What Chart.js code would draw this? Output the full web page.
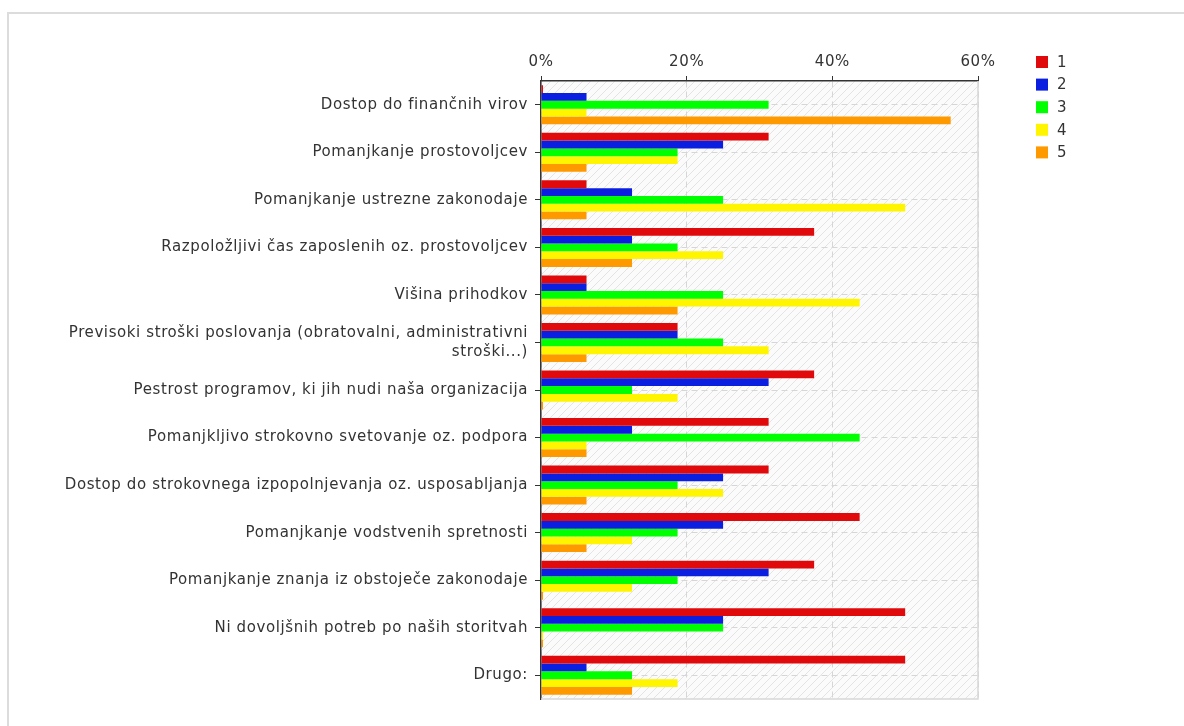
<!DOCTYPE html>
<html>
<head>
<meta charset="utf-8">
<script src="https://cdn.jsdelivr.net/npm/chart.js@4.4.1/dist/chart.umd.min.js"></script>
<style>
  html, body { margin: 0; padding: 0; background: #fff; overflow: hidden; }
  #frame {
    position: absolute; left: 7px; top: 12px; width: 1300px; height: 900px;
    border-left: 2px solid #dcdcdc; border-top: 2px solid #dcdcdc;
  }
  #wrap { position: absolute; left: 0; top: 0; width: 1184px; height: 726px; }
</style>
</head>
<body>
<div id="frame"></div>
<div id="wrap"><canvas id="chart" width="1184" height="726"></canvas></div>
<script>
const categories = [
  "Dostop do finančnih virov",
  "Pomanjkanje prostovoljcev",
  "Pomanjkanje ustrezne zakonodaje",
  "Razpoložljivi čas zaposlenih oz. prostovoljcev",
  "Višina prihodkov",
  ["Previsoki stroški poslovanja (obratovalni, administrativni", "stroški...)"],
  "Pestrost programov, ki jih nudi naša organizacija",
  "Pomanjkljivo strokovno svetovanje oz. podpora",
  "Dostop do strokovnega izpopolnjevanja oz. usposabljanja",
  "Pomanjkanje vodstvenih spretnosti",
  "Pomanjkanje znanja iz obstoječe zakonodaje",
  "Ni dovoljšnih potreb po naših storitvah",
  "Drugo:",
];

const seriesNames = ["1", "2", "3", "4", "5"];
const seriesColors = ["#e00a0c", "#0a1fe0", "#00ff00", "#fff500", "#ff9900"];

const values1 = [0, 31.25, 6.25, 37.5, 6.25, 18.75, 37.5, 31.25, 31.25, 43.75, 37.5, 50, 50];
const values2 = [6.25, 25, 12.5, 12.5, 6.25, 18.75, 31.25, 12.5, 25, 25, 31.25, 25, 6.25];
const values3 = [31.25, 18.75, 25, 18.75, 25, 25, 12.5, 43.75, 18.75, 18.75, 18.75, 25, 12.5];
const values4 = [6.25, 18.75, 50, 25, 43.75, 31.25, 18.75, 6.25, 25, 12.5, 12.5, 0, 18.75];
const values5 = [56.25, 6.25, 6.25, 12.5, 18.75, 6.25, 0, 6.25, 6.25, 6.25, 0, 0, 12.5];

const xTicks = [0, 20, 40, 60];

const FONT = "'DejaVu Sans', Verdana, sans-serif";
const TEXT = "#333";
const SPACING = "0.6px";

function hatchPattern(ctx) {
  const n = 8;
  const c = document.createElement("canvas");
  c.width = n;
  c.height = n;
  const p = c.getContext("2d");
  p.fillStyle = "#fbfbfb";
  p.fillRect(0, 0, n, n);
  p.strokeStyle = "#e4e4e4";
  p.lineWidth = 1;
  p.beginPath();
  p.moveTo(-1, n + 1);
  p.lineTo(n + 1, -1);
  p.moveTo(-1, 1);
  p.lineTo(1, -1);
  p.moveTo(n - 1, n + 1);
  p.lineTo(n + 1, n - 1);
  p.stroke();
  return ctx.createPattern(c, "repeat");
}

// canvas resets drop letterSpacing, so put it back before measuring and drawing
const spacedText = {
  id: "spacedText",
  beforeUpdate(chart) { chart.ctx.letterSpacing = SPACING; },
  beforeLayout(chart) { chart.ctx.letterSpacing = SPACING; },
  beforeDraw(chart) { chart.ctx.letterSpacing = SPACING; },
};

const plotBackground = {
  id: "plotBackground",
  beforeDraw(chart) {
    const { ctx, chartArea: a } = chart;
    ctx.save();
    ctx.fillStyle = hatchPattern(ctx);
    ctx.fillRect(a.left, a.top, a.right - a.left, a.bottom - a.top);
    ctx.restore();
  },
  afterDatasetsDraw(chart) {
    const { ctx, chartArea: a } = chart;
    ctx.save();
    ctx.strokeStyle = "#d8d8d8";
    ctx.lineWidth = 1.5;
    ctx.beginPath();
    ctx.moveTo(a.right, a.top);
    ctx.lineTo(a.right, a.bottom);
    ctx.lineTo(a.left, a.bottom);
    ctx.stroke();
    ctx.restore();
  },
};

const sideLegend = {
  id: "sideLegend",
  afterDraw(chart) {
    const { ctx } = chart;
    ctx.save();
    ctx.font = "15px " + FONT;
    ctx.textBaseline = "middle";
    chart.data.datasets.forEach((ds, i) => {
      const y = 62 + i * 22.6;
      ctx.fillStyle = ds.backgroundColor;
      ctx.fillRect(1036, y - 6, 12, 12);
      ctx.fillStyle = TEXT;
      ctx.fillText(ds.label, 1057, y + 1);
    });
    ctx.restore();
  },
};

const allValues = [values1, values2, values3, values4, values5];

new Chart(document.getElementById("chart").getContext("2d"), {
  type: "bar",
  data: {
    labels: categories,
    datasets: allValues.map((vals, i) => ({
      label: seriesNames[i],
      data: vals,
      backgroundColor: seriesColors[i],
      borderWidth: 0,
      minBarLength: 2,
      barPercentage: 1,
      categoryPercentage: 0.82,
    })),
  },
  options: {
    indexAxis: "y",
    responsive: false,
    animation: false,
    layout: { padding: { top: 40, left: 10, right: 206, bottom: 27 } },
    plugins: { legend: { display: false }, tooltip: { enabled: false } },
    scales: {
      x: {
        position: "top",
        min: 0,
        max: 60,
        afterFit: (s) => { s.height = 41; },
        afterBuildTicks: (s) => { s.ticks = xTicks.map((v) => ({ value: v })); },
        border: { color: "#333", width: 1.5, dash: [6, 4] },
        grid: {
          color: "#d6d6d6",
          tickColor: "#333",
          tickLength: 5,
          tickBorderDash: [],
        },
        ticks: {
          color: TEXT,
          font: { family: FONT, size: 15 },
          padding: 5,
          callback: (v) => v + "%",
        },
      },
      y: {
        afterFit: (s) => { s.width = 531; },
        border: { color: "#333", width: 1.5, dash: [6, 4] },
        grid: {
          offset: false,
          color: "#d6d6d6",
          tickColor: "#333",
          tickLength: 6,
          tickBorderDash: [],
        },
        ticks: {
          color: TEXT,
          font: { family: FONT, size: 15, lineHeight: 1.27 },
          padding: 7,
          autoSkip: false,
        },
      },
    },
  },
  plugins: [spacedText, plotBackground, sideLegend],
});
</script>
</body>
</html>
